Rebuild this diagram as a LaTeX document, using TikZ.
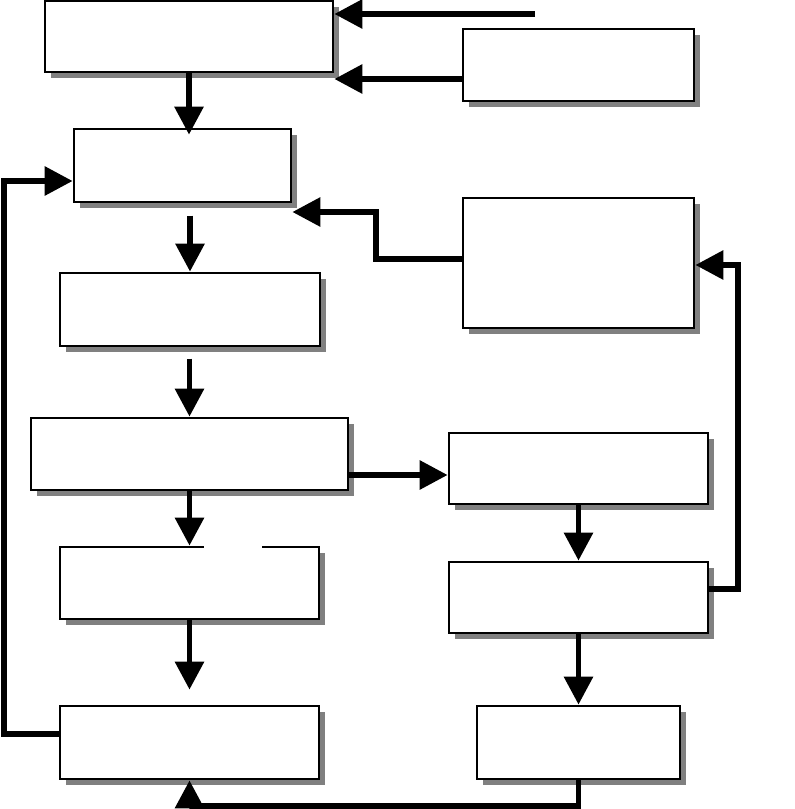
\documentclass[tikz,border=0pt]{standalone}
\usetikzlibrary{arrows.meta,shadows,fit,calc}
\begin{document}
\begin{tikzpicture}[x=0.75pt,y=-0.75pt,
  box/.style={draw=black, line width=2pt, fill=white, inner sep=0pt,
    drop shadow={shadow xshift=4.2pt, shadow yshift=-4.2pt, fill=black!50, opacity=1}},
  arr/.style={line width=4.4pt, -{Triangle[length=21pt,width=21pt]}}]
\useasboundingbox (0,0) rectangle (794,809);
% boxes
\node[box, fit={(45,1)(333,72)}] (A) {};
\node[box, fit={(463,29)(694,101)}] (C) {};
\node[box, fit={(74,129)(291,202)}] (B) {};
\node[box, fit={(463,198)(694,328)}] (D) {};
\node[box, fit={(60,273)(320,346)}] (E) {};
\node[box, fit={(31,418)(348,490)}] (F) {};
\node[box, fit={(449,433)(708,504)}] (I) {};
\node[box, fit={(60,547)(319,619)}] (G) {};
\node[box, fit={(449,562)(708,633)}] (J) {};
\node[box, fit={(60,706)(319,779)}] (H) {};
\node[box, fit={(477,706)(680,779)}] (K) {};
\draw[white, line width=2.8pt] (204,547) -- (262,547);
% free ends and offsets
\coordinate (t1) at (535,14);
\coordinate (c2) at ($(C.west)+(0,14)$);
\coordinate (h1) at ($(H.west)+(0,-8.5)$);
\coordinate (b1) at ($(B.west)+(0,15.5)$);
\coordinate (d1) at ($(D.west)+(0,-4)$);
\coordinate (b2) at ($(B.east)+(0,46.5)$);
\coordinate (j1) at ($(J.east)+(0,-8.5)$);
\coordinate (d2) at ($(D.east)+(0,2)$);
\coordinate (f1) at ($(F.east)+(0,21)$);
% connectors
\draw[arr] (t1) -- (t1 -| A.east);
\draw[arr] (c2) -- (c2 -| A.east);
\draw[arr] (A.south) -- ($(A.south |- B.north)+(0,7)$);
\draw[arr] (h1) -- ++(-55,0) |- (b1);
\draw[arr] ($(E.north)+(0,-56)$) -- (E.north);
\draw[arr] (d1) -- ++(-86,0) |- (b2);
\draw[arr] ($(F.north)+(0,-58)$) -- (F.north);
\draw[arr] (F.south) -- (F.south |- G.north);
\draw[arr] (f1) -- (f1 -| I.west);
\draw[arr] (I.south) -- (J.north);
\draw[arr] (j1) -- ++(29,0) |- (d2);
\draw[arr] (G.south) -- ($(G.south |- H.north)+(0,-15)$);
\draw[arr] (J.south) -- (K.north);
\draw[arr] (K.south) -- ++(0,26) -| (H.south);
\end{tikzpicture}
\end{document}
